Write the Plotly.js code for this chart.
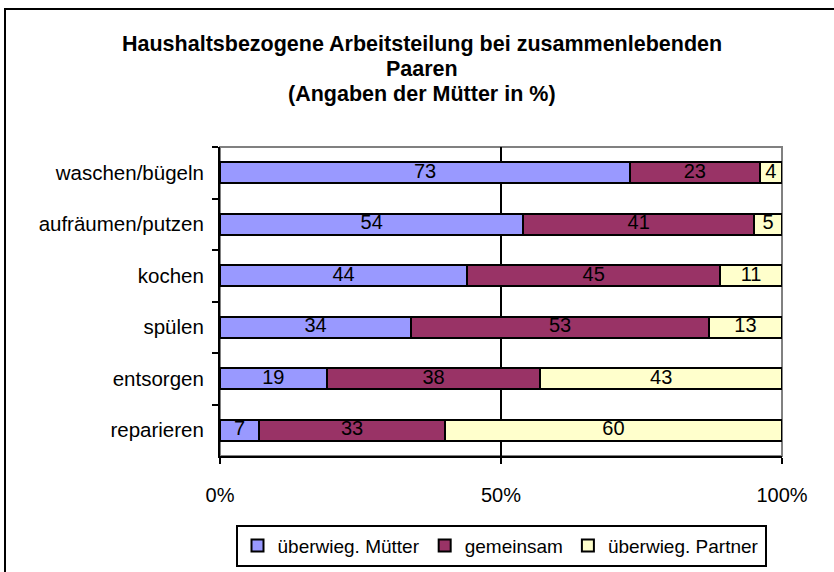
<!DOCTYPE html>
<html>
<head>
<meta charset="utf-8">
<script src="https://cdn.plot.ly/plotly-3.0.1.min.js"></script>
<style>
html,body{margin:0;padding:0;background:#fff;overflow:hidden;}
#wrap{position:relative;width:834px;height:572px;}
#chart{position:absolute;left:0;top:0;width:834px;height:572px;}
#frame{position:absolute;left:4px;top:8px;width:900px;height:700px;border-left:2px solid #000;border-top:2px solid #000;pointer-events:none;}
</style>
</head>
<body>
<div id="wrap"><div id="chart"></div><div id="frame"></div></div>
<script>
const categories = ["waschen/bügeln","aufräumen/putzen","kochen","spülen","entsorgen","reparieren"];
const seriesNames = ["überwieg. Mütter","gemeinsam","überwieg. Partner"];
const muetter = [73,54,44,34,19,7];
const gemeinsam = [23,41,45,53,38,33];
const partner = [4,5,11,13,43,60];
const colors = ["#9999FF","#993366","#FFFFCC"];
const xTickVals = [0,50,100];
const xTickText = ["0%","50%","100%"];
const titleLines = ["Haushaltsbezogene Arbeitsteilung bei zusammenlebenden","Paaren","(Angaben der Mütter in %)"];

const values = [muetter, gemeinsam, partner];
const font = "Arial, 'Liberation Sans', sans-serif";
const traces = values.map((v,i)=>({
  type:"bar", orientation:"h", name:seriesNames[i],
  x:v, y:categories,
  marker:{color:colors[i], line:{color:"#000", width:2}},
  hoverinfo:"x+y+name"
}));
// value labels centred in each segment
values.forEach((v,i)=>{
  const mids = v.map((val,k)=>{
    let base = 0;
    for(let j=0;j<i;j++) base += values[j][k];
    return base + val/2;
  });
  traces.push({
    type:"scatter", mode:"text", x:mids, y:categories, text:v.map(String),
    textposition:"middle center", textfont:{family:font,size:20,color:"#000"},
    showlegend:false, hoverinfo:"skip", cliponaxis:false
  });
});

const layout = {
  width:834, height:572,
  margin:{l:220, r:52, t:147, b:116, autoexpand:false},
  paper_bgcolor:"#fff", plot_bgcolor:"#fff",
  barmode:"stack", bargap:0.6,
  font:{family:font, size:20, color:"#000"},
  showlegend:true,
  legend:{orientation:"h", x:0.5, xanchor:"center", y:-0.222, yanchor:"top",
    bordercolor:"#000", borderwidth:2, bgcolor:"#fff",
    font:{family:font,size:19,color:"#000"}, itemwidth:30, traceorder:"normal"},
  xaxis:{range:[0,100], tickvals:xTickVals, ticktext:xTickText, showgrid:false,
    showline:true, linecolor:"#000", linewidth:2, ticks:"outside", ticklen:6, tickwidth:2, tickcolor:"#000",
    ticklabelstandoff:14, zeroline:false, fixedrange:true, automargin:false,
    tickfont:{family:font,size:20,color:"#000"}},
  yaxis:{type:"category", categoryorder:"array", categoryarray:categories, autorange:"reversed",
    showline:true, linecolor:"#000", linewidth:2, ticks:"outside", ticklen:6, tickwidth:2, tickcolor:"#000",
    tickson:"boundaries", showgrid:false, ticklabelstandoff:10, fixedrange:true, automargin:false,
    tickfont:{family:font,size:20.5,color:"#000"}},
  shapes:[
    {type:"rect", xref:"paper", yref:"paper", x0:0, x1:1, y0:0, y1:1, line:{color:"#808080", width:2}, layer:"below"},
    {type:"line", xref:"x", yref:"paper", x0:50, x1:50, y0:0, y1:1, line:{color:"#000", width:2}, layer:"below"}
  ],
  annotations: titleLines.map((t,i)=>({
    text:"<b>"+t+"</b>", xref:"paper", yref:"paper", x:(422-220)/562, xanchor:"center",
    y:(456-[44,69,94][i])/309, yanchor:"middle", showarrow:false,
    font:{family:font,size:21.5,color:"#000"}
  }))
};

Plotly.newPlot("chart", traces, layout, {displayModeBar:false, staticPlot:true});
</script>
</body>
</html>
